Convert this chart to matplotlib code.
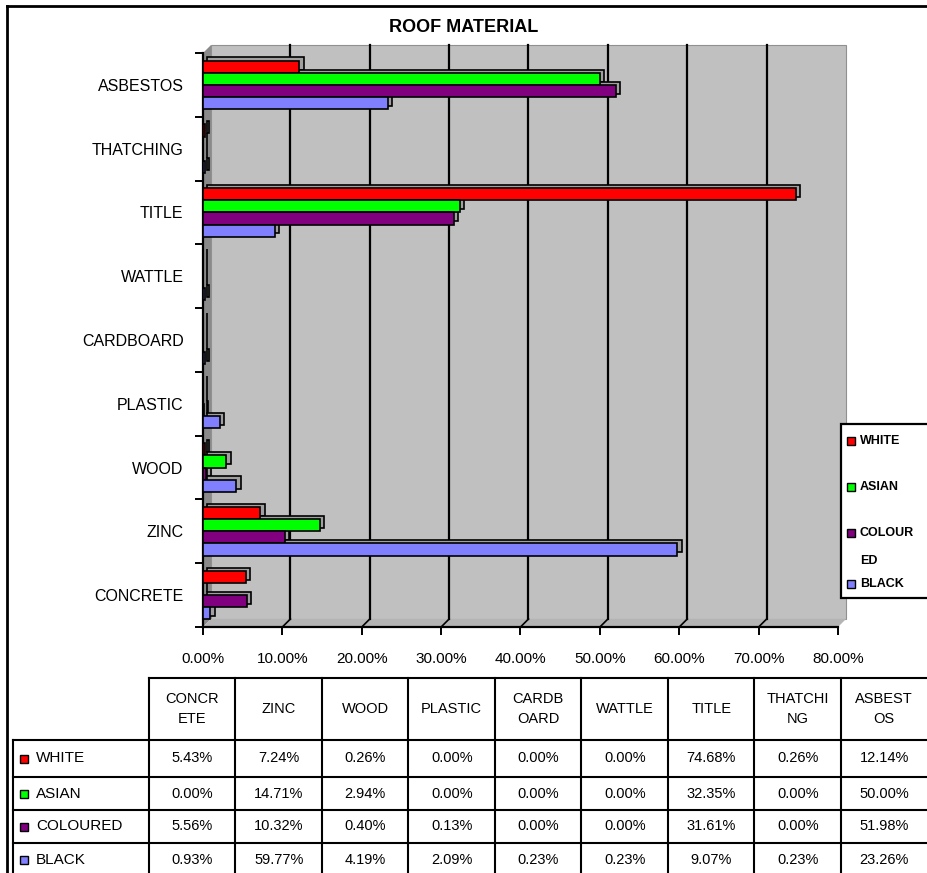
import matplotlib.pyplot as plt
import matplotlib as mpl
from matplotlib.patches import Rectangle, Polygon

mpl.rc('font', family=['Liberation Sans', 'DejaVu Sans'])

categories = ["CONCRETE", "ZINC", "WOOD", "PLASTIC", "CARDBOARD",
              "WATTLE", "TITLE", "THATCHING", "ASBESTOS"]
table_heads = ["CONCR\nETE", "ZINC", "WOOD", "PLASTIC", "CARDB\nOARD",
               "WATTLE", "TITLE", "THATCHI\nNG", "ASBEST\nOS"]
groups = ["WHITE", "ASIAN", "COLOURED", "BLACK"]
white = [5.43, 7.24, 0.26, 0.00, 0.00, 0.00, 74.68, 0.26, 12.14]
asian = [0.00, 14.71, 2.94, 0.00, 0.00, 0.00, 32.35, 0.00, 50.00]
coloured = [5.56, 10.32, 0.40, 0.13, 0.00, 0.00, 31.61, 0.00, 51.98]
black = [0.93, 59.77, 4.19, 2.09, 0.23, 0.23, 9.07, 0.23, 23.26]
colors = ["#FF0000", "#00FF00", "#800080", "#8080FF"]
series = [white, asian, coloured, black]

W, H = 928, 873
fig = plt.figure(figsize=(W / 100, H / 100), dpi=100)

# chart axes, placed in pixel terms
L, R, T, B = 203, 838, 53, 627
ax = fig.add_axes([L / W, 1 - B / H, (R - L) / W, (B - T) / H])
ax.set_xlim(0, 80)
ax.set_ylim(-0.5, 8.5)
ax.patch.set_visible(False)

dx = 8 * 80 / (R - L)
dy = 8 / ((B - T) / 9)

# 3d walls
ax.add_patch(Rectangle((dx, -0.5 + dy), 80, 9, facecolor="#C0C0C0",
                       edgecolor="#909090", lw=0.8, zorder=0, clip_on=False))
ax.add_patch(Polygon([(0, -0.5), (dx, -0.5 + dy), (dx, 8.5 + dy), (0, 8.5)],
                     closed=True, facecolor="#8A8A8A", edgecolor="none",
                     zorder=0, clip_on=False))
ax.add_patch(Polygon([(0, -0.5), (80, -0.5), (80 + dx, -0.5 + dy), (dx, -0.5 + dy)],
                     closed=True, facecolor="#B4B4B4", edgecolor="none",
                     zorder=0, clip_on=False))
for g in range(10, 80, 10):
    ax.plot([g + dx, g + dx], [-0.5 + dy, 8.5 + dy], color="black", lw=1.6,
            zorder=1, clip_on=False)
    ax.plot([g, g + dx], [-0.5, -0.5 + dy], color="black", lw=1.2,
            zorder=1, clip_on=False)

# bars with a little depth box behind
h = 0.19
offs = [0.285, 0.095, -0.095, -0.285]
bdx, bdy = 0.55, 0.05
for vals, off in zip(series, offs):
    for i, v in enumerate(vals):
        ax.add_patch(Rectangle((bdx, i + off - h / 2 + bdy), v, h,
                               facecolor="#A0A0A0", edgecolor="black",
                               lw=1.2, zorder=2, clip_on=False))
for vals, off, c in zip(series, offs, colors):
    ax.barh([i + off for i in range(len(vals))], vals, height=h, color=c,
            edgecolor="black", linewidth=1.2, zorder=3)

ax.spines["top"].set_visible(False)
ax.spines["right"].set_visible(False)
ax.spines["left"].set_linewidth(1.6)
ax.spines["bottom"].set_linewidth(1.6)
ax.set_xticks(range(0, 90, 10))
ax.set_xticklabels(["%.2f%%" % t for t in range(0, 90, 10)], fontsize=11)
ax.set_yticks([k - 0.5 for k in range(10)])
ax.set_yticklabels([])
ax.set_yticks(range(9), minor=True)
ax.set_yticklabels(categories, minor=True, fontsize=11.5)
ax.tick_params(axis="y", which="minor", length=0, pad=14)
ax.tick_params(axis="both", which="major", length=6, width=1.4, direction="out")
ax.tick_params(axis="x", pad=12)

# overlay in pixel coordinates for title, legend, table and frame
ov = fig.add_axes([0, 0, 1, 1])
ov.set_xlim(0, W)
ov.set_ylim(H, 0)
ov.axis("off")
ov.patch.set_visible(False)

ov.plot([7, W + 5], [6, 6], color="black", lw=2)
ov.plot([7, 7], [6, H + 5], color="black", lw=2)
ov.text(464, 27, "ROOF MATERIAL", ha="center", va="center",
        fontsize=13, fontweight="bold")

# legend
ov.add_patch(Rectangle((841, 424), 100, 174, facecolor="white",
                       edgecolor="black", lw=1.6, clip_on=False))
leg_y = [441, 487, 533, 584]
leg_txt = ["WHITE", "ASIAN", "COLOUR", "BLACK"]
for y, t, c in zip(leg_y, leg_txt, colors):
    ov.add_patch(Rectangle((847, y - 4), 8, 8, facecolor=c, edgecolor="black", lw=1))
    ov.text(860, y, t, ha="left", va="center", fontsize=9, fontweight="bold")
ov.text(860, 561, "ED", ha="left", va="center", fontsize=9, fontweight="bold")

# data table
col_x = [149 + 86.5 * k for k in range(9)]
row_y = [740, 777, 810, 843, 876]
ov.plot([col_x[0], W + 5], [678, 678], color="black", lw=1.5)
for x in col_x:
    ov.plot([x, x], [678, H + 5], color="black", lw=1.5)
for y in row_y:
    ov.plot([13, W + 5], [y, y], color="black", lw=1.5)
ov.plot([13, 13], [740, H + 5], color="black", lw=1.5)
for k, t in enumerate(table_heads):
    ov.text(col_x[k] + 43.25, 709, t, ha="center", va="center",
            fontsize=10.5, linespacing=1.6)
for r, (g, vals, c) in enumerate(zip(groups, series, colors)):
    yc = (row_y[r] + row_y[r + 1]) / 2
    ov.add_patch(Rectangle((20, yc - 4), 8, 8, facecolor=c, edgecolor="black", lw=1))
    ov.text(36, yc, g, ha="left", va="center", fontsize=11)
    for k, v in enumerate(vals):
        ov.text(col_x[k] + 43.25, yc, "%.2f%%" % v,
                ha="center", va="center", fontsize=10.5)

fig.savefig("out.png", dpi=100)
